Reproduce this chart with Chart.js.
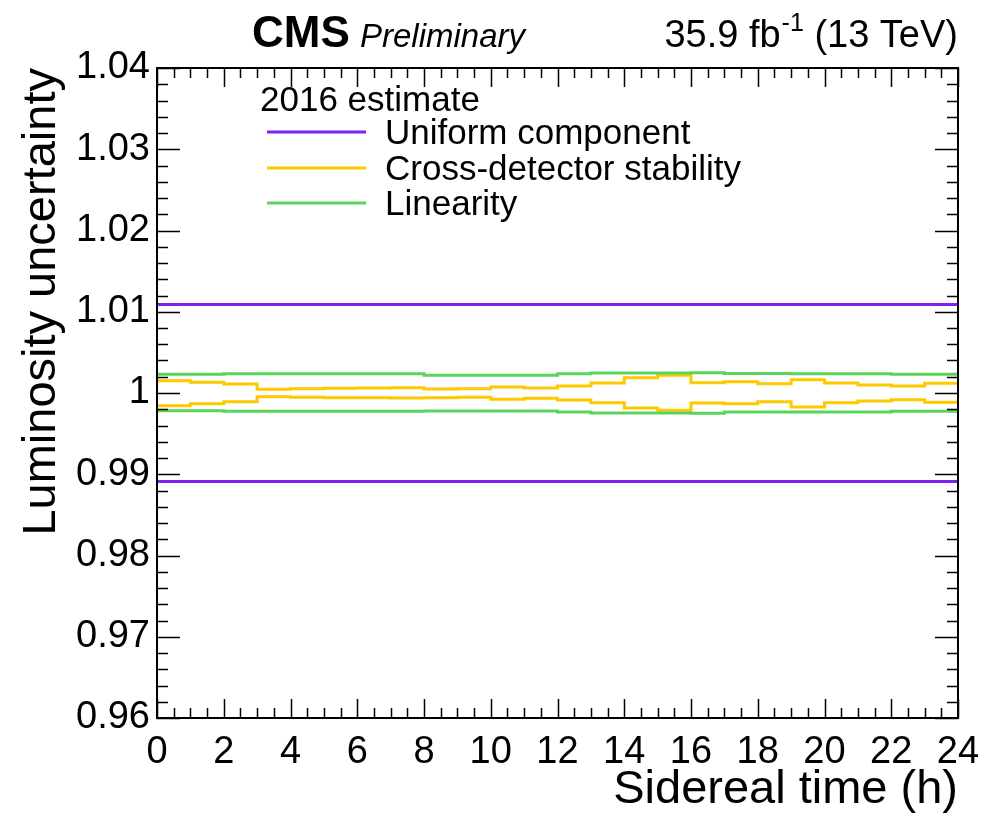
<!DOCTYPE html>
<html lang="en">
<head>
    <meta charset="UTF-8">
    <title>Luminosity uncertainty vs sidereal time</title>
    <style>
        body { margin: 0; background: #fff; }
        #wrap { width: 995px; height: 816px; position: relative; }
    </style>
</head>
<body>
    <div id="wrap"><canvas id="myChart01"></canvas></div>
    <script src="https://cdn.jsdelivr.net/npm/chart.js"></script>
    <script>
        // 資料 (每小時一個 bin, 0-24 h)
        var binEdges = [0, 1, 2, 3, 4, 5, 6, 7, 8, 9, 10, 11, 12, 13, 14, 15, 16, 17, 18, 19, 20, 21, 22, 23, 24];
        var uniformUp = 1.0109;
        var uniformDown = 0.9891;
        var stabilityUp = [1.00152, 1.00131, 1.00111, 1.00045, 1.00053, 1.00057, 1.00062, 1.00066, 1.00049, 1.00053, 1.00074, 1.00062,
            1.00086, 1.00123, 1.00189, 1.00218, 1.00127, 1.00139, 1.00115, 1.00164, 1.00123, 1.00098, 1.00086, 1.00119];
        var stabilityDown = [0.99844, 0.99869, 0.99893, 0.99955, 0.99947, 0.99943, 0.99943, 0.99938, 0.99943, 0.99947, 0.99922, 0.99934,
            0.99914, 0.99881, 0.99815, 0.99787, 0.99877, 0.99869, 0.99893, 0.99828, 0.99881, 0.99902, 0.99918, 0.99885];
        var linearityUp = [1.0023, 1.0023, 1.00238, 1.00238, 1.00238, 1.00238, 1.00238, 1.00238, 1.0022, 1.0022, 1.0022, 1.0022,
            1.00238, 1.00246, 1.00246, 1.00246, 1.0025, 1.0024, 1.0024, 1.00238, 1.00238, 1.00238, 1.0023, 1.0023];
        var linearityDown = [0.99782, 0.99782, 0.99775, 0.99775, 0.99775, 0.99775, 0.99775, 0.99775, 0.99778, 0.99778, 0.99778, 0.99778,
            0.99766, 0.99754, 0.99754, 0.99754, 0.9975, 0.99766, 0.99766, 0.99766, 0.99766, 0.99766, 0.99775, 0.99775];
        var legendTitle = '2016 estimate';
        var seriesNames = ['Uniform component', 'Cross-detector stability', 'Linearity'];
        var seriesColors = ['#7d22f2', '#fdc900', '#5ad45a'];

        var FONT = '"Liberation Sans", Arial, Helvetica, sans-serif';

        // 把 bin 數值轉成階梯線的點 (最後一點重複)
        function toSteps(vals) {
            return binEdges.map(function (x, i) {
                return { x: x, y: vals[Math.min(i, vals.length - 1)] };
            });
        }
        function flat(v) {
            return binEdges.map(function (x) { return { x: x, y: v }; });
        }
        function lineSet(data, color) {
            return { data: data, borderColor: color, borderWidth: 3, pointRadius: 0, stepped: 'before', fill: false };
        }

        // 邊框、ROOT 風格刻度、文字
        var rootStyle = {
            id: 'rootStyle',
            afterDraw: function (chart) {
                var ctx = chart.ctx;
                var a = chart.chartArea;
                var xs = chart.scales.x, ys = chart.scales.y;
                ctx.save();
                ctx.strokeStyle = '#000';
                ctx.lineWidth = 2;
                ctx.strokeRect(a.left, a.top, a.right - a.left, a.bottom - a.top);
                ctx.lineWidth = 1.5;
                ctx.beginPath();
                var i, v, px, len;
                for (i = 0; i <= 48; i++) {
                    v = i * 0.5;
                    px = Math.round(xs.getPixelForValue(v)) + 0.5;
                    len = (i % 4 === 0) ? 19 : 10;
                    ctx.moveTo(px, a.bottom); ctx.lineTo(px, a.bottom - len);
                    ctx.moveTo(px, a.top); ctx.lineTo(px, a.top + len);
                }
                for (i = 0; i <= 40; i++) {
                    v = 0.96 + i * 0.002;
                    px = Math.round(ys.getPixelForValue(v)) + 0.5;
                    len = (i % 5 === 0) ? 23 : 11;
                    ctx.moveTo(a.left, px); ctx.lineTo(a.left + len, px);
                    ctx.moveTo(a.right, px); ctx.lineTo(a.right - len, px);
                }
                ctx.stroke();

                ctx.fillStyle = '#000';
                // 軸標題
                ctx.font = '47px ' + FONT;
                ctx.textAlign = 'right';
                ctx.textBaseline = 'alphabetic';
                ctx.fillText('Sidereal time (h)', a.right, 803);
                ctx.save();
                ctx.translate(55, a.top);
                ctx.rotate(-Math.PI / 2);
                ctx.fillText('Luminosity uncertainty', 0, 0);
                ctx.restore();

                // 上方標題
                ctx.textAlign = 'left';
                ctx.font = 'bold 44px ' + FONT;
                ctx.fillText('CMS', 252, 47);
                ctx.font = 'italic 33px ' + FONT;
                ctx.fillText('Preliminary', 360, 47);
                ctx.textAlign = 'right';
                ctx.font = '38px ' + FONT;
                ctx.fillText('(13 TeV)', a.right, 47);
                var w1 = ctx.measureText(' (13 TeV)').width;
                ctx.font = '25px ' + FONT;
                ctx.fillText('-1', a.right - w1, 31);
                var w2 = ctx.measureText('-1').width;
                ctx.font = '38px ' + FONT;
                ctx.fillText('35.9 fb', a.right - w1 - w2 - 1, 47);

                // 圖例
                ctx.textAlign = 'left';
                ctx.font = '35px ' + FONT;
                ctx.fillText(legendTitle, 260, 111);
                var rows = [132, 168, 203];
                seriesNames.forEach(function (name, k) {
                    ctx.strokeStyle = seriesColors[k];
                    ctx.lineWidth = 3;
                    ctx.beginPath();
                    ctx.moveTo(267, rows[k]); ctx.lineTo(366, rows[k]);
                    ctx.stroke();
                    ctx.fillText(name, 385, rows[k] + 12);
                });
                ctx.restore();
            }
        };

        var ctx01 = document.getElementById('myChart01');
        var chart01 = new Chart(ctx01, {
            type: 'line',
            data: {
                datasets: [
                    lineSet(toSteps(linearityUp), seriesColors[2]),
                    lineSet(toSteps(linearityDown), seriesColors[2]),
                    lineSet(toSteps(stabilityUp), seriesColors[1]),
                    lineSet(toSteps(stabilityDown), seriesColors[1]),
                    lineSet(flat(uniformUp), seriesColors[0]),
                    lineSet(flat(uniformDown), seriesColors[0])
                ]
            },
            options: {
                responsive: true,
                maintainAspectRatio: false,
                animation: false,
                layout: { padding: { top: 68, right: 37, left: 0, bottom: 0 } },
                plugins: { legend: { display: false }, tooltip: { enabled: false } },
                scales: {
                    x: {
                        type: 'linear', min: 0, max: 24,
                        grid: { display: false, drawTicks: false },
                        border: { display: false },
                        ticks: { stepSize: 2, padding: 12, color: '#000', font: { family: FONT, size: 38 }, maxRotation: 0 },
                        afterFit: function (s) { s.height = 98; }
                    },
                    y: {
                        min: 0.96, max: 1.04,
                        grid: { display: false, drawTicks: false },
                        border: { display: false },
                        ticks: {
                            stepSize: 0.01, padding: 7, color: '#000', font: { family: FONT, size: 38 },
                            callback: function (v) { return String(Number(v.toFixed(2))); }
                        },
                        afterFit: function (s) { s.width = 157; }
                    }
                }
            },
            plugins: [rootStyle]
        });
    </script>
</body>
</html>
